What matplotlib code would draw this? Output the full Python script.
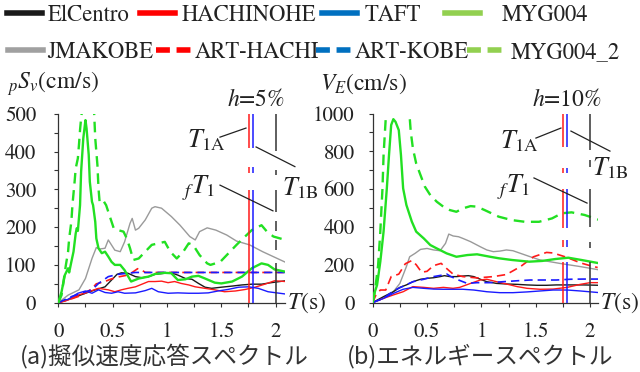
import matplotlib
matplotlib.use('Agg')
import matplotlib.pyplot as plt
from matplotlib.lines import Line2D

plt.rcParams['font.family'] = ['STIXGeneral', 'DejaVu Serif']
plt.rcParams['mathtext.fontset'] = 'stix'

# ---------------- data: (a) pseudo velocity response spectrum ----------------
elc_T = [0, 0.12, 0.25, 0.34, 0.43, 0.49, 0.54, 0.58, 0.64, 0.71, 0.77, 0.83, 0.89, 0.98, 1.04, 1.10, 1.17, 1.23,
         1.29, 1.35, 1.41, 1.50, 1.60, 1.69, 1.78, 1.87, 1.96, 2.09]
elc_Sv = [0, 11, 25, 34, 42, 60, 75, 79, 78, 69, 66, 69, 75, 78, 79, 73, 64, 62, 51, 41, 38, 41, 44, 47, 49, 49, 53, 58]

hac_T = [0, 0.09, 0.18, 0.28, 0.37, 0.46, 0.52, 0.58, 0.64, 0.71, 0.77, 0.83, 0.89, 0.95, 1.01, 1.07, 1.13, 1.20,
         1.26, 1.35, 1.44, 1.53, 1.63, 1.72, 1.81, 1.90, 1.99, 2.09]
hac_Sv = [0, 7, 20, 29, 38, 34, 29, 34, 38, 42, 49, 56, 56, 57, 53, 56, 51, 47, 42, 38, 34, 29, 31, 35, 41, 49, 58, 56]

taft_T = [0, 0.09, 0.18, 0.25, 0.31, 0.37, 0.43, 0.49, 0.55, 0.61, 0.71, 0.80, 0.86, 0.92, 1.01, 1.10, 1.20, 1.29,
          1.38, 1.47, 1.56, 1.66, 1.75, 1.84, 1.93, 2.09]
taft_Sv = [0, 9, 25, 31, 25, 34, 27, 25, 29, 25, 26, 32, 38, 29, 25, 26, 25, 25, 26, 31, 35, 41, 42, 38, 29, 23]

jma_T = [0, 0.09, 0.19, 0.25, 0.31, 0.35, 0.38, 0.43, 0.46, 0.52, 0.57, 0.61, 0.66, 0.68, 0.71, 0.74, 0.80, 0.86,
         0.89, 0.95, 1.04, 1.12, 1.21, 1.26, 1.30, 1.37, 1.45, 1.55, 1.64, 1.76, 1.88, 2.09]
jma_Sv = [0, 20, 34, 64, 117, 146, 142, 144, 166, 139, 135, 161, 210, 223, 192, 197, 219, 250, 254, 250, 228, 205,
          175, 166, 188, 198, 192, 179, 163, 153, 135, 107]

myg_T = [0, 0.03, 0.06, 0.09, 0.10, 0.12, 0.14, 0.16, 0.17, 0.18, 0.20, 0.21, 0.23, 0.25, 0.26, 0.28, 0.29, 0.31,
         0.32, 0.34, 0.35, 0.37, 0.40, 0.43, 0.46, 0.49, 0.52, 0.57, 0.61, 0.67, 0.74, 0.83, 0.89, 0.98, 1.04, 1.10,
         1.17, 1.23, 1.29, 1.35, 1.44, 1.50, 1.60, 1.69, 1.78, 1.87, 1.93, 1.99, 2.09]
myg_Sv = [0, 29, 73, 91, 80, 108, 135, 183, 197, 190, 258, 347, 435, 483, 461, 391, 320, 267, 258, 214, 170, 144,
          131, 135, 122, 108, 100, 100, 86, 56, 64, 69, 76, 79, 78, 60, 62, 69, 71, 64, 53, 51, 56, 69, 91, 104, 100,
          88, 82]

myg2_T = [0, 0.03, 0.07, 0.09, 0.10, 0.12, 0.13, 0.15, 0.16, 0.18, 0.19, 0.20, 0.21, 0.24, 0.28, 0.31, 0.33, 0.34,
          0.36, 0.37, 0.38, 0.41, 0.44, 0.48, 0.51, 0.55, 0.60, 0.63, 0.66, 0.69, 0.74, 0.80, 0.86, 0.92, 0.98, 1.03,
          1.09, 1.15, 1.20, 1.24, 1.30, 1.37, 1.40, 1.49, 1.55, 1.64, 1.70, 1.78, 1.87, 1.92, 1.98, 2.09]
myg2_Sv = [0, 20, 100, 135, 170, 214, 258, 320, 355, 382, 417, 457, 488, 560, 600, 560, 500, 435, 364, 302, 267,
           272, 258, 223, 197, 192, 188, 170, 144, 113, 117, 135, 153, 157, 161, 135, 117, 135, 157, 153, 126, 104,
           100, 108, 126, 153, 170, 192, 205, 188, 175, 166]

arth_T = [0, 0.10, 0.20, 0.30, 0.35, 0.42, 0.48, 0.55, 0.62, 0.68, 0.73, 0.76, 0.80, 0.90, 2.09]
arth_Sv = [0, 8, 18, 35, 50, 55, 62, 68, 72, 80, 90, 88, 80, 80, 80]

artk_T = [0, 0.12, 0.21, 0.31, 0.37, 0.46, 0.55, 0.64, 0.71, 2.09]
artk_Sv = [0, 16, 25, 34, 51, 69, 75, 78, 80, 80]

# ---------------- data: (b) energy spectrum ----------------
elc_VT = [0, 0.10, 0.19, 0.25, 0.31, 0.37, 0.44, 0.50, 0.56, 0.62, 0.66, 0.71, 0.77, 0.83, 0.88, 0.93, 0.99, 1.05,
          1.14, 1.23, 1.33, 1.42, 1.51, 1.60, 1.69, 1.82, 1.94, 2.09]
elc_VE = [0, 31, 57, 80, 93, 110, 123, 128, 131, 137, 142, 137, 137, 140, 142, 137, 123, 110, 101, 98, 96, 93, 91,
          91, 93, 93, 93, 91]

hac_VT = [0, 0.10, 0.19, 0.28, 0.37, 0.47, 0.56, 0.65, 0.74, 0.80, 0.90, 0.99, 1.05, 1.14, 1.23, 1.33, 1.42, 1.54,
          1.66, 1.79, 1.91, 2.00, 2.09]
hac_VE = [0, 22, 40, 57, 84, 80, 75, 80, 75, 80, 101, 119, 123, 110, 98, 84, 75, 70, 71, 80, 96, 105, 105]

taft_VT = [0, 0.10, 0.19, 0.28, 0.37, 0.47, 0.56, 0.65, 0.74, 0.83, 0.93, 1.05, 1.17, 1.29, 1.42, 1.54, 1.66, 1.79,
           1.91, 2.09]
taft_VE = [0, 22, 48, 70, 80, 75, 71, 70, 70, 70, 66, 57, 52, 52, 56, 61, 66, 66, 61, 52]

jma_VT = [0, 0.10, 0.19, 0.25, 0.31, 0.34, 0.39, 0.44, 0.50, 0.56, 0.62, 0.67, 0.70, 0.74, 0.79, 0.83, 0.90, 0.99,
          1.05, 1.11, 1.17, 1.23, 1.29, 1.36, 1.45, 1.54, 1.63, 1.72, 1.82, 1.91, 2.00, 2.09]
jma_VE = [0, 22, 57, 101, 190, 242, 260, 281, 286, 278, 274, 313, 362, 352, 348, 339, 322, 295, 278, 269, 272, 278,
          274, 260, 242, 225, 216, 207, 198, 190, 181, 172]

myg_VT = [0, 0.01, 0.04, 0.07, 0.10, 0.13, 0.15, 0.17, 0.19, 0.21, 0.24, 0.26, 0.28, 0.31, 0.36, 0.40, 0.47, 0.53,
          0.59, 0.68, 0.77, 0.87, 0.96, 1.08, 1.16, 1.28, 1.44, 1.56, 1.68, 1.80, 1.92, 2.09]
myg_VE = [0, 40, 92, 216, 375, 604, 780, 939, 970, 956, 912, 780, 604, 516, 428, 375, 339, 304, 286, 260, 242, 251,
          255, 242, 234, 225, 216, 220, 230, 237, 225, 207]

myg2_VT = [0, 0.02, 0.05, 0.07, 0.09, 0.10, 0.12, 0.16, 0.22, 0.28, 0.34, 0.35, 0.37, 0.40, 0.44, 0.48, 0.53, 0.59,
           0.65, 0.71, 0.77, 0.83, 0.90, 0.96, 1.03, 1.16, 1.28, 1.40, 1.53, 1.65, 1.74, 1.83, 1.95, 2.09]
myg2_VE = [0, 57, 198, 375, 604, 780, 974, 1150, 1250, 1150, 983, 904, 815, 736, 674, 613, 568, 533, 507, 489, 480,
           498, 510, 507, 489, 454, 436, 427, 427, 445, 472, 477, 463, 436]

arth_VT = [0, 0.03, 0.07, 0.12, 0.17, 0.24, 0.30, 0.36, 0.40, 0.45, 0.50, 0.56, 0.63, 0.68, 0.74, 0.83, 0.96, 1.11,
           1.23, 1.36, 1.48, 1.60, 1.66, 1.78, 1.91, 2.00, 2.07]
arth_VE = [0, 40, 66, 66, 137, 150, 205, 222, 200, 160, 165, 195, 207, 180, 150, 137, 130, 137, 148, 190, 242, 265,
           262, 240, 210, 195, 185]

artk_VT = [0, 0.10, 0.16, 0.22, 0.37, 0.47, 0.56, 0.64, 0.68, 0.72, 0.79, 0.87, 0.96, 1.08, 1.20, 1.33, 1.45, 1.57,
           1.69, 1.82, 1.94, 2.09]
artk_VE = [0, 22, 48, 70, 110, 123, 137, 145, 151, 137, 119, 101, 105, 105, 110, 115, 119, 119, 119, 123, 124, 124]

# natural periods (vertical marker lines)
T1A_A = 1.755   # building A (red)
T1A_B = 1.79    # building B (blue)
T1B = 2.0       # (black)

names = ['ElCentro', 'HACHINOHE', 'TAFT', 'MYG004', 'JMAKOBE', 'ART-HACHI', 'ART-KOBE', 'MYG004_2']

# ---------------- styles ----------------
C_BLK, C_RED, C_BLU, C_GRN, C_GRY = '#1a1a1a', '#ff1a1a', '#1a1aff', '#22e022', '#9a9a9a'
styles = {
    'ElCentro': dict(color=C_BLK, lw=1.0, ls='-'),
    'HACHINOHE': dict(color=C_RED, lw=1.0, ls='-'),
    'TAFT': dict(color=C_BLU, lw=1.0, ls='-'),
    'MYG004': dict(color=C_GRN, lw=1.7, ls='-'),
    'JMAKOBE': dict(color=C_GRY, lw=1.0, ls='-'),
    'ART-HACHI': dict(color=C_RED, lw=1.2, ls=(0, (5, 3))),
    'ART-KOBE': dict(color=C_BLU, lw=1.2, ls=(0, (5, 3))),
    'MYG004_2': dict(color=C_GRN, lw=1.7, ls=(0, (4.5, 2.8))),
}

fig = plt.figure(figsize=(6.4, 3.72), dpi=100)
W, H = 640.0, 372.0
axL = fig.add_axes([58.3 / W, (H - 302.7) / H, 226.7 / W, 189 / H])
axR = fig.add_axes([372.7 / W, (H - 302.5) / H, 225.3 / W, 189 / H])

left_series = [(elc_T, elc_Sv), (hac_T, hac_Sv), (taft_T, taft_Sv), (myg_T, myg_Sv),
               (jma_T, jma_Sv), (arth_T, arth_Sv), (artk_T, artk_Sv), (myg2_T, myg2_Sv)]
right_series = [(elc_VT, elc_VE), (hac_VT, hac_VE), (taft_VT, taft_VE), (myg_VT, myg_VE),
                (jma_VT, jma_VE), (arth_VT, arth_VE), (artk_VT, artk_VE), (myg2_VT, myg2_VE)]
draw_order = ['JMAKOBE', 'ElCentro', 'HACHINOHE', 'TAFT', 'ART-HACHI', 'ART-KOBE', 'MYG004_2', 'MYG004']

for ax, series in ((axL, left_series), (axR, right_series)):
    d = dict(zip(names, series))
    for n in draw_order:
        x, y = d[n]
        ax.plot(x, y, **styles[n], zorder=3)


def vline(ax, T, color, pieces):
    for y0, y1 in pieces:
        ax.plot([T, T], [y0, y1], color=color, lw=1.1, zorder=4, solid_capstyle='butt')


# (a) marker lines
for T, c in ((T1A_A, C_RED), (T1A_B, C_BLU)):
    vline(axL, T, c, [(0, 298), (343, 359), (409, 500)])
vline(axL, T1B, '#333333', [(0, 105), (140, 165), (190, 215), (241, 298), (338, 350), (401, 500)])
# (b) marker lines
for T, c in ((T1A_A, C_RED), (T1A_B, C_BLU)):
    vline(axR, T, c, [(0, 216), (295, 330), (392, 603), (684, 710), (824, 1000)])
vline(axR, T1B, '#333333', [(0, 216), (286, 322), (401, 603), (718, 754), (806, 1000)])

# axes formatting
for ax, ymax, ystep, ylabstep, xmax, ypad in ((axL, 500, 50, 100, 2.086, 13), (axR, 1000, 100, 200, 2.073, 10)):
    ax.set_xlim(0, xmax)
    ax.set_ylim(0, ymax)
    for s in ('top', 'right'):
        ax.spines[s].set_visible(False)
    for s in ('left', 'bottom'):
        ax.spines[s].set_linewidth(0.9)
        ax.spines[s].set_color('#333333')
    xt = [i * 0.25 for i in range(9)]
    ax.set_xticks(xt)
    ax.set_xticklabels([('%g' % v) if abs(v * 2 - round(v * 2)) < 1e-9 else '' for v in xt])
    yt = list(range(0, ymax + 1, ystep))
    ax.set_yticks(yt)
    ax.set_yticklabels([str(v) if v % ylabstep == 0 else '' for v in yt])
    ax.tick_params(direction='out', length=3, width=0.8, color='#333333', labelsize=15,
                   labelcolor='#222222')
    ax.tick_params(axis='x', pad=11)
    ax.tick_params(axis='y', pad=ypad)
    ax.text(1.01, 0.0, '$T$(s)', transform=ax.transAxes, fontsize=17, va='center', ha='left',
            color='#222222')

axL.text(-0.226, 1.157, '${}_{p}S_{v}$(cm/s)', transform=axL.transAxes, fontsize=17, va='center',
         ha='left', color='#222222')
axR.text(-0.234, 1.157, '$V_{E}$(cm/s)', transform=axR.transAxes, fontsize=17, va='center',
         ha='left', color='#222222')

# annotations (a)
tk = dict(color='#222222', clip_on=False, zorder=5)
axL.text(1.82, 536, '$h$=5%', fontsize=17, ha='center', va='center', color='#222222')
axL.text(1.184, 410, r'$T_{\mathrm{1A}}$', fontsize=19, ha='left', va='baseline', color='#222222')
axL.plot([1.488, 1.727], [438, 462], lw=0.9, **tk)
axL.plot([1.82, 2.177], [412, 360], lw=0.9, **tk)
axL.text(2.057, 285, r'$T_{\mathrm{1B}}$', fontsize=19, ha='left', va='baseline', color='#222222')
axL.text(1.138, 290, r'${}_{f}T_{1}$', fontsize=19, ha='left', va='baseline', color='#222222')
axL.plot([1.488, 1.975], [311, 243], lw=0.9, **tk)

# annotations (b)
axR.text(1.787, 1071, '$h$=10%', fontsize=17, ha='center', va='center', color='#222222')
axR.text(1.171, 817, r'$T_{\mathrm{1A}}$', fontsize=19, ha='left', va='baseline', color='#222222')
axR.plot([1.502, 1.732], [870, 923], lw=0.9, **tk)
axR.plot([1.824, 2.183], [907, 801], lw=0.9, **tk)
axR.text(2.017, 674, r'$T_{\mathrm{1B}}$', fontsize=19, ha='left', va='baseline', color='#222222')
axR.text(1.144, 585, r'${}_{f}T_{1}$', fontsize=19, ha='left', va='baseline', color='#222222')
axR.plot([1.484, 1.972], [659, 526], lw=0.9, **tk)

# legend (one entry each, placed like the reference)
leg_colors = {'ElCentro': '#1a1a1a', 'HACHINOHE': '#ff0000', 'TAFT': '#0070c0', 'MYG004': '#92d050',
              'JMAKOBE': '#a0a0a0', 'ART-HACHI': '#ff0000', 'ART-KOBE': '#0070c0', 'MYG004_2': '#92d050'}
leg_pos = {'ElCentro': (7, 15, 0.27), 'HACHINOHE': (140, 15, 0.30), 'TAFT': (322, 15, 0.33),
           'MYG004': (445, 15, 0.95), 'JMAKOBE': (8, 52, 0.18), 'ART-HACHI': (156, 52, 0.18),
           'ART-KOBE': (316, 52, 0.18), 'MYG004_2': (467, 52, 0.36)}
for n in names:
    st = styles[n]
    ls = '-' if st['ls'] == '-' else (0, (2.5, 1.2))
    h = Line2D([], [], color=leg_colors[n], lw=4, ls=ls)
    px, py, tp = leg_pos[n]
    fig.legend(handles=[h], labels=[n], loc='center left', bbox_to_anchor=(px / W, 1 - py / H),
               frameon=False, fontsize=16.3, handlelength=1.55, handletextpad=tp, borderpad=0,
               borderaxespad=0, labelcolor='#222222')

# captions
cj = ['Noto Sans CJK JP', 'DejaVu Sans']
fig.text(20 / W, 1 - 356 / H, '(a)擬似速度応答スペクトル', fontsize=17, family=cj, va='center', ha='left',
         color='#333333')
fig.text(347 / W, 1 - 356 / H, '(b)エネルギースペクトル', fontsize=17, family=cj, va='center', ha='left',
         color='#333333')

fig.savefig('out.png', dpi=100)
